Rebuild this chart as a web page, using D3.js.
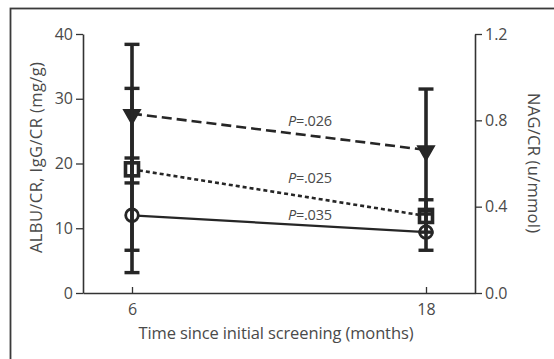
<!DOCTYPE html>
<html><head><meta charset="utf-8">
<script src="https://cdn.jsdelivr.net/npm/d3@7"></script>
<style>body{margin:0;background:#fff}svg{display:block}text{font-family:"Open Sans","Liberation Sans",sans-serif;fill:#4a4a4a}</style>
</head><body><svg id="c" width="554" height="359"></svg>
<script>
const months = [6, 18];
const xTicks = [6, 18];
const leftTicks = [0, 10, 20, 30, 40];
const rightTicks = [0.0, 0.4, 0.8, 1.2];
const circleVals = [12.0, 9.4];
const circleErr = [8.85, 2.8];
const squareVals = [19.1, 11.9];
const squareErr = [12.5, 2.5];
const triVals = [27.7, 22.1];
const triErr = [10.7, 9.4];
const pLabels = ["=.026", "=.025", "=.035"];
const pLabelY = [25.8, 17.0, 11.3];

const svg = d3.select("#c");
const L = 83, R = 475, T = 34, B = 293;
const x = d3.scaleLinear().domain([4, 20]).range([L, R]);
const y = d3.scaleLinear().domain([0, 40]).range([B, T]);
const y2 = d3.scaleLinear().domain([0, 1.2]).range([B, T]);
const ink = "#262626";
const FONT = "'Open Sans', 'Liberation Sans', sans-serif";

// frame
svg.append("rect").attr("x", 10.5).attr("y", 8.5).attr("width", 700).attr("height", 500)
  .attr("fill", "none").attr("stroke", "#3a3a3a").attr("stroke-width", 1.8);

const style = g => {
  g.select(".domain").attr("stroke", "#333").attr("stroke-width", 1.6);
  g.selectAll(".tick line").attr("stroke", "#333").attr("stroke-width", 1.3);
  g.selectAll(".tick text").attr("font-size", 16).attr("fill", "#4a4a4a").attr("font-family", FONT);
};
svg.append("g").attr("transform", `translate(${L},0)`)
  .call(d3.axisLeft(y).tickValues(leftTicks).tickSize(7).tickPadding(3).tickSizeOuter(0)).call(style);
svg.append("g").attr("transform", `translate(${R},0)`)
  .call(d3.axisRight(y2).tickValues(rightTicks).tickFormat(d3.format(".1f")).tickSize(7).tickPadding(3).tickSizeOuter(0)).call(style);
const gx = svg.append("g").attr("transform", `translate(0,${B})`)
  .call(d3.axisBottom(x).tickValues(xTicks).tickSize(-6).tickPadding(10).tickSizeOuter(0)).call(style);
gx.selectAll(".tick text").attr("y", 22).attr("dy", 0);

// titles
svg.append("text").attr("x", 276).attr("y", 339).attr("text-anchor", "middle").attr("font-size", 16.5)
  .attr("textLength", 275).text("Time since initial screening (months)");
svg.append("text").attr("transform", "translate(42,157.5) rotate(-90)").attr("text-anchor", "middle")
  .attr("font-size", 16.5).attr("textLength", 191).text("ALBU/CR, IgG/CR (mg/g)");
svg.append("text").attr("transform", "translate(528,163) rotate(90)").attr("text-anchor", "middle")
  .attr("font-size", 16.5).attr("textLength", 140).text("NAG/CR (u/mmol)");

const series = [
  {vals: triVals, err: triErr, dash: "10,5", w: 2.6, shape: "tri"},
  {vals: squareVals, err: squareErr, dash: "4,3", w: 2.6, shape: "sq"},
  {vals: circleVals, err: circleErr, dash: null, w: 2.2, shape: "circ"}
];
const line = d3.line().x((d, i) => x(months[i])).y(d => y(d));
series.forEach(s => {
  svg.append("path").datum(s.vals).attr("d", line).attr("fill", "none").attr("stroke", ink)
    .attr("stroke-width", s.w).attr("stroke-dasharray", s.dash);
});
// markers
series.forEach(s => {
  s.vals.forEach((v, i) => {
    const cx = x(months[i]), cy = y(v);
    if (s.shape === "circ") {
      svg.append("circle").attr("cx", cx).attr("cy", cy).attr("r", 6.3).attr("fill", "#fff")
        .attr("stroke", ink).attr("stroke-width", 2.8);
    } else if (s.shape === "sq") {
      svg.append("rect").attr("x", cx - 6.5).attr("y", cy - 6.5).attr("width", 13).attr("height", 13)
        .attr("fill", "#fff").attr("stroke", ink).attr("stroke-width", 3.6);
    } else {
      svg.append("path").attr("d", d3.symbol(d3.symbolTriangle, 120)())
        .attr("transform", `translate(${cx},${cy + 1}) rotate(180)`)
        .attr("fill", ink).attr("stroke", ink).attr("stroke-width", 1.5);
    }
  });
});
// error bars
series.forEach(s => {
  s.vals.forEach((v, i) => {
    const cx = x(months[i]);
    const lo = v - s.err[i], hi = v + s.err[i];
    svg.append("line").attr("x1", cx).attr("x2", cx).attr("y1", y(lo)).attr("y2", y(hi))
      .attr("stroke", ink).attr("stroke-width", 3.6);
    [lo, hi].forEach(e => svg.append("line").attr("x1", cx - 7.5).attr("x2", cx + 7.5)
      .attr("y1", y(e)).attr("y2", y(e)).attr("stroke", ink).attr("stroke-width", 3.4));
  });
});
// P labels
pLabels.forEach((t, i) => {
  const tx = svg.append("text").attr("x", 310).attr("y", y(pLabelY[i])).attr("text-anchor", "middle")
    .attr("font-size", 14.5).attr("textLength", 44);
  tx.append("tspan").attr("font-style", "italic").text("P");
  tx.append("tspan").text(t);
});
</script></body></html>
